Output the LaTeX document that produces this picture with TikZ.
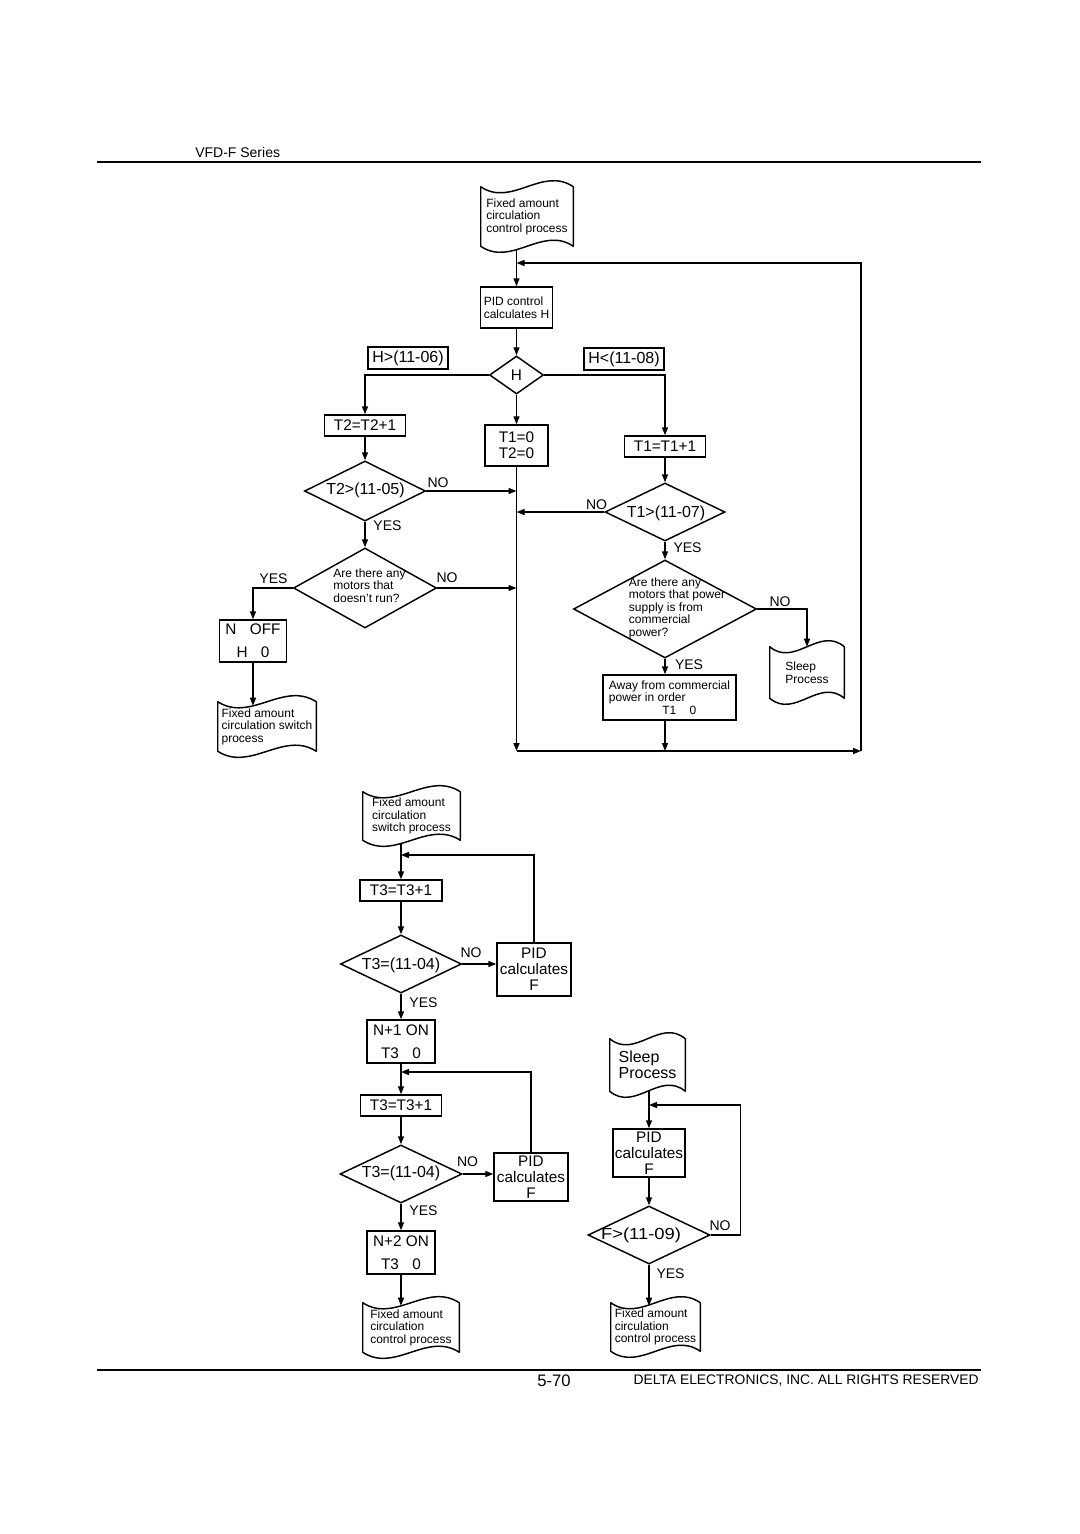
\documentclass[tikz,border=0pt]{standalone}
\usepackage{fontspec}
\setmainfont{Liberation Sans}
\usetikzlibrary{calc,shapes.geometric,arrows.meta}
\newcommand\myB{\fontsize{11.5pt}{12pt}\selectfont}
\newcommand\myBB{\fontsize{12pt}{12pt}\selectfont}
\newcommand\myS{\fontsize{9pt}{9.4pt}\selectfont}
\newcommand\myM{\fontsize{10.5pt}{12pt}\selectfont}
\newcommand\docwave[1]{%
  \draw[ln,line join=round] (#1.north west)
    .. controls ($(#1.north west)!0.3333!(#1.north east)+(0,21)$) and ($(#1.north west)!0.6667!(#1.north east)+(0,-21)$) .. (#1.north east)
    -- (#1.south east)
    .. controls ($(#1.south west)!0.6667!(#1.south east)+(0,-21)$) and ($(#1.south west)!0.3333!(#1.south east)+(0,21)$) .. (#1.south west)
    -- cycle;}
\tikzset{
  ln/.style={line width=1.1pt},
  arr/.style={ln,-{Triangle[length=6pt,width=4.5pt]}},
  sz/.style 2 args={minimum width=#1*0.75pt,minimum height=#2*0.75pt},
  box/.style={draw,ln,inner sep=0pt,font=\myB,align=center},
  sbox/.style={draw,ln,inner sep=0pt,font=\myS,align=left},
  lblbox/.style={draw,line width=0.8pt,inner sep=0pt,font=\myBB},
  dia/.style={draw,ln,diamond,inner sep=0pt},
  doc/.style={inner sep=0pt,font=\myS,align=left},
  bt/.style={font=\myBB,inner sep=0pt},
  st/.style={font=\myS,inner sep=0pt,align=left},
  lbl/.style={font=\myM,inner sep=0pt},
}
\begin{document}
\begin{tikzpicture}[x=0.75pt,y=-0.75pt]
\path[fill=white,use as bounding box] (0,0) rectangle (1080,1534);

% header / footer
\node[anchor=west,font=\myM,inner sep=0pt] (hdr) at (195,152) {VFD-F Series};
\draw[line width=1.1pt] (97,162) -- (981,162);
\draw[line width=1.1pt] (97,1370) -- (981,1370);
\node[font=\fontsize{12.5pt}{14pt}\selectfont,inner sep=0pt] (pg) at (554,1381) {5-70};
\node[anchor=east,font=\fontsize{10.4pt}{12pt}\selectfont,inner sep=0pt] (cpy) at (979,1381) {DELTA ELECTRONICS, INC. ALL RIGHTS RESERVED};

% ---------- top flowchart ----------
\node[doc,sz={92}{59}] (D1) at (527,216.5) {Fixed amount\\circulation\\control process};
\docwave{D1}
\node[sbox,sz={72}{41}] (PIDH) at (516.5,307.5) {PID control\\calculates H};
\node[dia,sz={54}{38},font=\myB] (Hd) at (516.5,375) {H};
\node[lblbox,sz={80}{22}] (LA) at (408,358) {H>(11-06)};
\node[lblbox,sz={80}{22}] (LB) at (624,359) {H<(11-08)};
\node[box,sz={81}{21}] (T2inc) at (365,425.5) {T2=T2+1};
\node[box,sz={63}{41}] (T10) at (516.5,445.5) {T1=0\\T2=0};
\node[box,sz={81}{21}] (T1inc) at (665,446.5) {T1=T1+1};

\node[dia,sz={121}{60}] (T2d) at (365,491) {};
\node[bt] (T2dt) at (365.5,490.5) {T2>(11-05)};
\node[dia,sz={143}{80}] (M1d) at (365,588) {};
\node[st] (M1dt) at (369.5,585.5) {Are there any\\motors that\\doesn't run?};
\node[box,sz={67}{42}] (NOFF) at (253,641) {N\hspace{10pt}OFF\\[5pt]H\hspace{10pt}0};
\node[doc,sz={98}{49}] (D2) at (267,726.5) {Fixed amount\\circulation switch\\process};
\docwave{D2}

\node[dia,sz={120}{58}] (T1d) at (665,512) {};
\node[bt] (T1dt) at (666,513.5) {T1>(11-07)};
\node[dia,sz={183}{98}] (M2d) at (665,609) {};
\node[st] (M2dt) at (677,608) {Are there any\\motors that power\\supply is from\\commercial\\power?};
\node[doc,sz={74}{51}] (SL1) at (807,672.5) {Sleep\\Process};
\docwave{SL1}
\node[sbox,sz={133}{45}] (AW) at (669.5,697.5) {Away from commercial\\power in order\\\hspace*{40pt}T1\hspace{10pt}0};

\coordinate (cTL) at (516.5,263);
\coordinate (cTR) at (861,263);
\coordinate (cBL) at (516.5,751);
\coordinate (cBR) at (861,751);

\draw[arr] ($(D1.south -| PIDH.north)+(0,4)$) -- (PIDH.north);
\draw[arr] (cBR) -- (cTR) -- (cTL);
\draw[arr] (PIDH.south) -- (Hd.north);
\draw[arr] (Hd.south) -- (T10.north);
\draw[arr] (Hd.west) -| (T2inc.north);
\draw[arr] (Hd.east) -| (T1inc.north);
\draw[arr] (T2inc.south) -- (T2d.north);
\draw[arr] (T2d.east) -- (T2d.east -| T10.south);
\draw[arr] (T2d.south) -- (M1d.north);
\draw[arr] (M1d.east) -- (M1d.east -| T10.south);
\draw[arr] (M1d.west) -| (NOFF.north);
\draw[arr] (NOFF.south) -- ($(NOFF.south |- D2.north)+(0,4)$);
\draw[arr] (T1inc.south) -- (T1d.north);
\draw[arr] (T1d.west) -- (T1d.west -| T10.south);
\draw[arr] (T1d.south) -- (M2d.north);
\draw[arr] (M2d.east) -| (SL1.north);
\draw[arr] (M2d.south) -- (M2d.south |- AW.north);
\draw[arr] (AW.south -| M2d.south) -- (M2d.south |- cBL);
\draw[arr] (T10.south) -- (cBL);
\draw[arr] (cBL) -- (cBR);

\node[lbl] (l1) at (438,483) {NO};
\node[lbl] (l2) at (387.5,525.5) {YES};
\node[lbl] (l3) at (273.5,578.5) {YES};
\node[lbl] (l4) at (447,577.5) {NO};
\node[lbl] (l5) at (596.5,504.5) {NO};
\node[lbl] (l6) at (687.5,547.5) {YES};
\node[lbl] (l7) at (780,602) {NO};
\node[lbl] (l8) at (689,665) {YES};

% ---------- bottom left ----------
\node[doc,sz={97}{48}] (D3) at (411.5,816) {Fixed amount\\circulation\\switch process};
\docwave{D3}
\node[box,sz={82}{21}] (T3a) at (401,890.5) {T3=T3+1};
\coordinate (j1) at (401,855);
\node[dia,sz={121}{58}] (T3ad) at (401,964) {};
\node[bt] (T3adt) at (401,965) {T3=(11-04)};
\node[box,sz={74}{53}] (PF1) at (534,969.5) {PID\\calculates\\F};
\node[box,sz={68}{43}] (N1) at (401,1041.5) {N+1 ON\\[5pt]T3\hspace{10pt}0};
\node[box,sz={81}{21}] (T3b) at (401,1105.5) {T3=T3+1};
\coordinate (j2) at (401,1072);
\node[dia,sz={122}{58}] (T3bd) at (401,1174) {};
\node[bt] (T3bdt) at (401,1173) {T3=(11-04)};
\node[box,sz={74}{48}] (PF2) at (531,1177) {PID\\calculates\\F};
\node[box,sz={68}{43}] (N2) at (401,1252.5) {N+2 ON\\[5pt]T3\hspace{10pt}0};
\node[doc,sz={96}{49}] (D4) at (411,1327.5) {Fixed amount\\circulation\\control process};
\docwave{D4}

\draw[arr] ($(D3.south -| T3a.north)+(0,4)$) -- (T3a.north);
\draw[arr] (PF1.north) |- (j1);
\draw[arr] (T3a.south) -- (T3ad.north);
\draw[arr] (T3ad.east) -- (T3ad.east -| PF1.west);
\draw[arr] (T3ad.south) -- (N1.north);
\draw[arr] (N1.south) -- (T3b.north);
\draw[arr] (PF2.north) |- (j2);
\draw[arr] (T3b.south) -- (T3bd.north);
\draw[arr] (T3bd.east) -- (T3bd.east -| PF2.west);
\draw[arr] (T3bd.south) -- (N2.north);
\draw[arr] (N2.south) -- ($(N2.south |- D4.north)+(0,3)$);

\node[lbl] (l9) at (471,953) {NO};
\node[lbl] (l10) at (423.5,1002.5) {YES};
\node[lbl] (l11) at (467.5,1162) {NO};
\node[lbl] (l12) at (423.5,1211) {YES};

% ---------- bottom right ----------
\node[doc,sz={75}{52},font=\myBB] (SL2) at (647.5,1065) {Sleep\\Process};
\docwave{SL2}
\node[box,sz={72}{48}] (PF3) at (649,1153) {PID\\calculates\\F};
\coordinate (j3) at (649,1105);
\node[dia,sz={122}{58}] (Fd) at (649,1235) {};
\node[bt] (Fdt) at (641,1235) {\scalebox{1.15}[1]{F>(11-09)}};
\node[doc,sz={89}{48}] (D5) at (655.5,1327) {Fixed amount\\circulation\\control process};
\docwave{D5}

\draw[arr] (SL2.south -| PF3.north) -- (PF3.north);
\draw[arr] (PF3.south) -- (Fd.north);
\draw[arr] (Fd.east) -- ++(30,0) |- (j3);
\draw[arr] (Fd.south) -- ($(Fd.south |- D5.north)+(0,3)$);

\node[lbl] (l13) at (720,1226) {NO};
\node[lbl] (l14) at (670.5,1274) {YES};
\end{tikzpicture}
\end{document}
